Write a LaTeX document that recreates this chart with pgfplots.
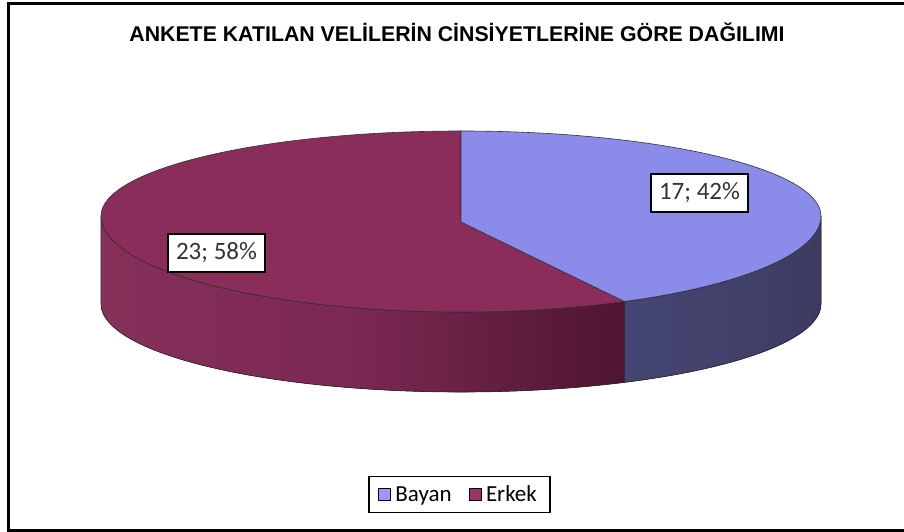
\documentclass[border=0pt]{standalone}
\usepackage{fontspec}
\setmainfont{Carlito}
\newfontfamily\titlefont{Liberation Sans}
\usepackage{pgfplots}
\pgfplotsset{compat=1.18}
\definecolor{BayTop}{RGB}{139,139,234}
\definecolor{BaySideL}{RGB}{70,70,116}
\definecolor{BaySideR}{RGB}{60,60,98}
\definecolor{ErkTop}{RGB}{139,45,91}
\definecolor{ErkSideL}{RGB}{134,48,90}
\definecolor{ErkSideM}{RGB}{122,40,82}
\definecolor{ErkSideR}{RGB}{78,21,47}
\definecolor{BayLeg}{RGB}{153,153,255}
\definecolor{ErkLeg}{RGB}{153,51,102}
\begin{document}
\begin{tikzpicture}
% data
\def\vB{17}
\def\vE{23}
% geometry (1 unit = 1pt)
\def\cx{461}\def\cy{316}\def\ra{360}\def\rbk{85}\def\rfr{96}
\def\by{228}\def\rbb{88}\def\py{310}
\pgfmathsetmacro\ang{360+90-360*\vB/(\vB+\vE)}
\pgfmathsetmacro\dxT{\cx+\ra*cos(\ang)}
\pgfmathsetmacro\dyT{\cy+\rfr*sin(\ang)}
\pgfmathsetmacro\dyB{\by+\rbb*sin(\ang)}
\pgfmathsetmacro\xL{\cx-\ra}
\pgfmathsetmacro\xR{\cx+\ra}
\pgfmathsetmacro\yTop{\cy+\rbk}
\begin{axis}[width=904pt,height=532pt,scale only axis,
  xmin=0,xmax=904,ymin=0,ymax=532,hide axis,clip=false,
  legend columns=2,
  legend image code/.code={\draw[#1,line width=1.3pt,draw=black] (0pt,-6pt) rectangle (12pt,6pt);},
  legend style={at={(axis cs:459.5,37.5)},anchor=center,draw=black,line width=1.4pt,
    fill=white,font=\fontsize{23}{27}\selectfont,inner xsep=9pt,inner ysep=8pt,
    nodes={inner xsep=4pt,inner ysep=1pt},
    /tikz/every even column/.append style={column sep=13pt}},
]
\addlegendimage{fill=BayLeg}
\addlegendentry{Bayan}
\addlegendimage{fill=ErkLeg}
\addlegendentry{Erkek}
% Erkek side
\fill[left color=ErkSideL,right color=ErkSideR,middle color=ErkSideM]
  (axis cs:\xL,\cy) arc[start angle=180,end angle=\ang,x radius=\ra pt,y radius=\rfr pt]
  -- (axis cs:\dxT,\dyB) arc[start angle=\ang,end angle=180,x radius=\ra pt,y radius=\rbb pt] -- cycle;
\draw[black!85,line width=0.6pt]
  (axis cs:\xL,\cy) arc[start angle=180,end angle=\ang,x radius=\ra pt,y radius=\rfr pt]
  -- (axis cs:\dxT,\dyB) arc[start angle=\ang,end angle=180,x radius=\ra pt,y radius=\rbb pt] -- cycle;
% Bayan side
\fill[left color=BaySideL,right color=BaySideR]
  (axis cs:\dxT,\dyT) arc[start angle=\ang,end angle=360,x radius=\ra pt,y radius=\rfr pt]
  -- (axis cs:\xR,\by) arc[start angle=360,end angle=\ang,x radius=\ra pt,y radius=\rbb pt] -- cycle;
\draw[black!85,line width=0.6pt]
  (axis cs:\dxT,\dyT) arc[start angle=\ang,end angle=360,x radius=\ra pt,y radius=\rfr pt]
  -- (axis cs:\xR,\by) arc[start angle=360,end angle=\ang,x radius=\ra pt,y radius=\rbb pt] -- cycle;
% Top faces
\filldraw[fill=ErkTop,draw=black!80,line width=0.6pt]
  (axis cs:\cx,\py) -- (axis cs:\cx,\yTop) arc[start angle=90,end angle=180,x radius=\ra pt,y radius=\rbk pt]
  arc[start angle=180,end angle=\ang,x radius=\ra pt,y radius=\rfr pt] -- cycle;
\filldraw[fill=BayTop,draw=black!80,line width=0.6pt]
  (axis cs:\cx,\py) -- (axis cs:\cx,\yTop) arc[start angle=90,end angle=0,x radius=\ra pt,y radius=\rbk pt]
  arc[start angle=360,end angle=\ang,x radius=\ra pt,y radius=\rfr pt] -- cycle;
% data labels
\node[draw=black,line width=1.5pt,fill=white,minimum width=97pt,minimum height=38pt,inner sep=0pt,
  font=\fontsize{25}{29}\selectfont,text=black!80] at (axis cs:699.5,339) {17; 42\%};
\node[draw=black,line width=1.5pt,fill=white,minimum width=97pt,minimum height=38pt,inner sep=0pt,
  font=\fontsize{25}{29}\selectfont,text=black!80] at (axis cs:216.5,279) {23; 58\%};
% title
\node[font=\titlefont\bfseries\fontsize{21.3}{25}\selectfont,anchor=base] at (axis cs:457,490)
  {ANKETE KATILAN VELİLERİN CİNSİYETLERİNE GÖRE DAĞILIMI};
% frame
\draw[line width=3pt] (axis cs:910,528.5) -- (axis cs:8.5,528.5) -- (axis cs:8.5,1.5) -- (axis cs:910,1.5);
\end{axis}
\pgfresetboundingbox
\path (0,0) rectangle (904pt,532pt);
\end{tikzpicture}
\end{document}
